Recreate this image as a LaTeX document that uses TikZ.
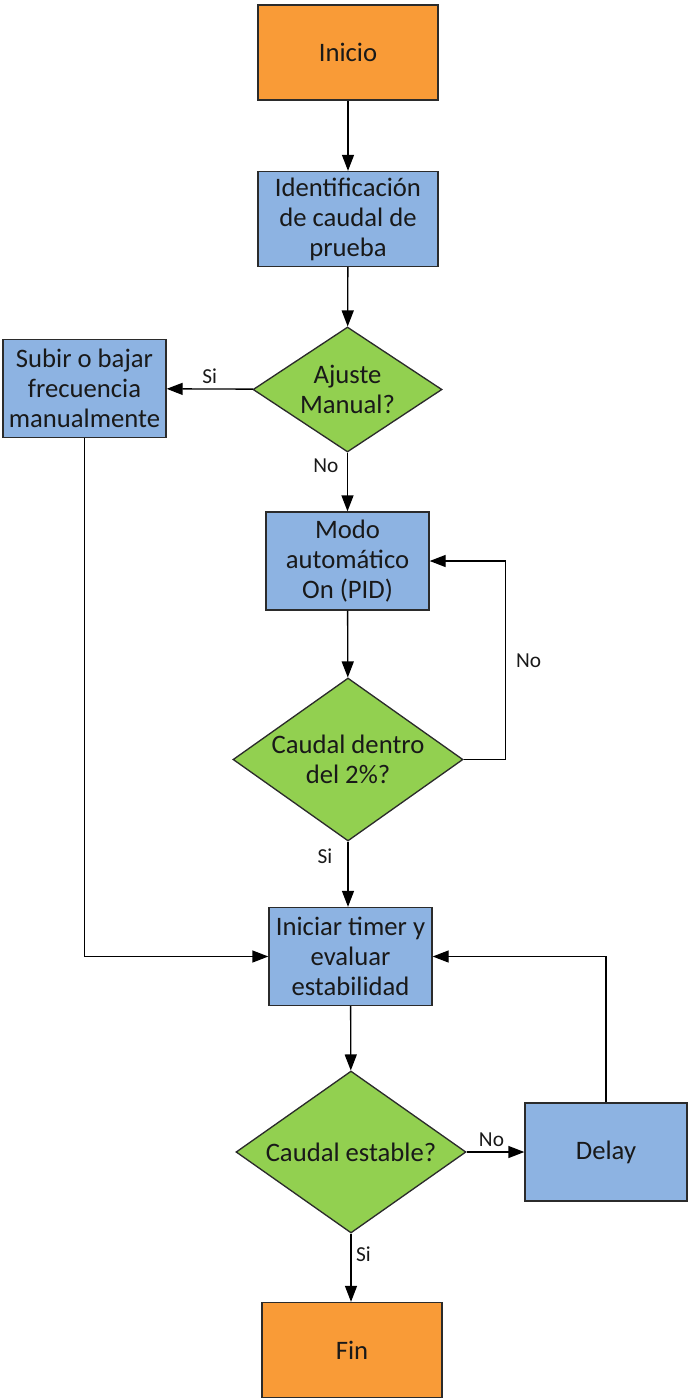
\documentclass[tikz,border=0pt]{standalone}
\usepackage{fontspec}
\setmainfont{Carlito}
\usetikzlibrary{shapes.geometric,arrows.meta}
\definecolor{naranja}{HTML}{F99B37}
\definecolor{azul}{HTML}{8DB3E2}
\definecolor{verde}{HTML}{92D050}
\definecolor{borde}{HTML}{2B2B2B}

\begin{document}
\begin{tikzpicture}[x=0.75pt,y=-0.75pt,
    font=\fontsize{20}{22.5}\selectfont,
    base/.style={draw=borde,line width=1pt,align=center,text=black!90},
    terminal/.style={base,fill=naranja,minimum width=135pt,minimum height=71.25pt},
    proceso/.style={base,fill=azul,minimum width=122.25pt,minimum height=73.5pt,inner sep=1pt},
    decision/.style={base,diamond,fill=verde,aspect=1.5,inner sep=0pt},
    flecha/.style={line width=1pt,draw=black,-{Triangle[length=12pt,width=9pt]}},
    etq/.style={font=\fontsize{16}{18}\selectfont,text=black!90}]
    \useasboundingbox (0,0) rectangle (688,1400);
    \node[terminal] (ini) at (348,52.5) {Inicio};
    \node[proceso,minimum width=135pt,minimum height=71.25pt] (ide) at (348,219) {Identificación\\de caudal de\\prueba};
    \node[decision,minimum width=141.75pt,minimum height=93.75pt] (aju) at (347.5,389.5) {Ajuste\\Manual?};
    \node[proceso] (sub) at (84.5,388.5) {Subir o bajar\\frecuencia\\manualmente};
    \node[proceso] (modo) at (347.5,561) {Modo\\automático\\On (PID)};
    \node[decision,minimum width=172.5pt,minimum height=122.25pt] (dent) at (348,759.5) {Caudal dentro\\del 2\%?};
    \node[proceso] (tim) at (350.5,956.5) {Iniciar timer y\\evaluar\\estabilidad};
    \node[decision,minimum width=172.5pt,minimum height=121.5pt] (est) at (351,1152) {Caudal estable?};
    \node[proceso,minimum width=121.5pt] (del) at (606,1152) {Delay};
    \node[terminal] (fin) at (352,1350) {Fin};

    \draw[flecha] (ini) -- (ide);
    \draw[flecha] (ide) -- (aju);
    \draw[flecha] (aju) -- node[etq,above]{Si} (sub);
    \draw[flecha] (aju) -- node[etq,left,pos=0.22,xshift=-3pt]{No} (modo);
    \draw[flecha] (sub) |- (tim);
    \draw[flecha] (modo) -- (dent);
    \draw[flecha] (dent.east) -- ++(42,0) |- node[etq,right,pos=0.25,xshift=4pt]{No} (modo.east);
    \draw[flecha] (dent.south) -- node[etq,left,pos=0.22,xshift=-8pt]{Si} (dent.south |- tim.north);
    \draw[flecha] (tim) -- (est);
    \draw[flecha] (est) -- node[etq,above,xshift=-3pt]{No} (del);
    \draw[flecha] (del) |- (tim);
    \draw[flecha] (est.south) -- node[etq,right,pos=0.3]{Si} (est.south |- fin.north);
\end{tikzpicture}
\end{document}
